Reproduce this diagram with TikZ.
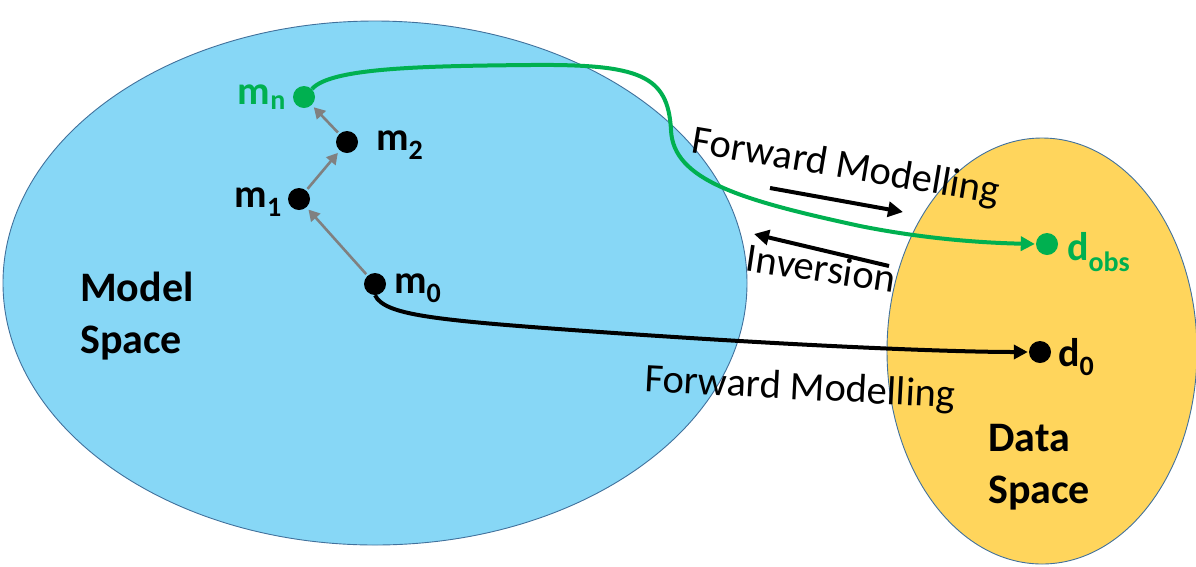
\documentclass[tikz,border=0pt]{standalone}
\usepackage{fontspec}
\setmainfont{Carlito}
\usetikzlibrary{arrows.meta}
\definecolor{modelblue}{HTML}{87D7F6}
\definecolor{datayellow}{HTML}{FFD55C}
\definecolor{edgeblue}{HTML}{41719C}
\definecolor{pathgreen}{HTML}{00B050}
\definecolor{stepgray}{HTML}{808080}
\tikzset{
  space/.style={draw=edgeblue, line width=0.9pt},
  dot/.style={circle, inner sep=0pt, minimum width=20pt, minimum height=22pt, fill=#1},
  mlabel/.style={font=\fontsize{40}{44}\selectfont\bfseries, text=#1, inner sep=0pt},
  spacelabel/.style={font=\fontsize{42}{52}\selectfont\bfseries, align=left, inner sep=0pt},
  txt/.style={font=\fontsize{40.5}{44}\selectfont, inner sep=0pt},
  steparrow/.style={draw=stepgray, line width=2.6pt, -{Triangle[length=11pt,width=12pt]}, shorten <=2pt, shorten >=3pt},
  curvearrow/.style={line width=4pt, -{Triangle[length=14pt,width=14pt]}, shorten >=1pt},
  relarrow/.style={draw=black, line width=4pt, -{Triangle[length=15pt,width=15pt]}}
}
\begin{document}
\begin{tikzpicture}[x=1pt,y=-1pt]
\useasboundingbox (0,0) rectangle (1196,566);
% spaces
\fill[modelblue] (375,283) ellipse [x radius=372, y radius=262];
\draw[space] (375,283) ellipse [x radius=372, y radius=262];
\fill[datayellow] (1042,351) ellipse [x radius=155, y radius=213];
\draw[space] (1042,351) ellipse [x radius=155, y radius=213];
% labels of spaces
\node[spacelabel, anchor=west] (ms) at (80,316) {Model\\Space};
\node[spacelabel, anchor=west] (ds) at (988,467) {Data\\Space};
% dots
\node[dot=pathgreen] (mn) at (304,97) {};
\node[dot=black] (m2) at (347,142) {};
\node[dot=black] (m1) at (299,199) {};
\node[dot=black] (m0) at (375,284) {};
\node[dot=pathgreen] (dobs) at (1047,244) {};
\node[dot=black] (d0) at (1040,352) {};
% labels
\node[mlabel=pathgreen, anchor=base east] (lmn) at (286,104) {m\textsubscript{n}};
\node[mlabel=black, anchor=base west] (lm2) at (376,150) {m\textsubscript{2}};
\node[mlabel=black, anchor=base east] (lm1) at (282,207) {m\textsubscript{1}};
\node[mlabel=black, anchor=base west] (lm0) at (394,293) {m\textsubscript{0}};
\node[mlabel=pathgreen, anchor=base west] (ldobs) at (1067,260) {d\textsubscript{obs}};
\node[mlabel=black, anchor=base west] (ld0) at (1058,366) {d\textsubscript{0}};
% step arrows
\draw[steparrow] (m0) -- (m1);
\draw[steparrow] (m1) -- (m2);
\draw[steparrow] (m2) -- (mn);
% green path
\draw[curvearrow, pathgreen] (mn.north east) .. controls (330,68) and (420,66) .. (530,65)
  .. controls (640,64) and (668,75) .. (671,130)
  .. controls (673,180) and (740,200) .. (860,226)
  .. controls (930,240) and (990,243) .. (dobs.west);
% black path
\draw[curvearrow, black] (m0.south) .. controls (385,315) and (430,320) .. (600,332)
  .. controls (800,346) and (950,352) .. (d0.west);
% relation arrows
\coordinate (fa1) at (770,188);
\coordinate (fa2) at (903,212);
\coordinate (ia1) at (889,266);
\coordinate (ia2) at (754,234);
\draw[relarrow] (fa1) -- (fa2);
\draw[relarrow] (ia1) -- (ia2);
\node[txt, rotate=-9.5] (tfm) at (846,168) {Forward Modelling};
\node[txt, rotate=-8.5] (tinv) at (821,268) {Inversion};
\node[txt, rotate=-3] (tfm2) at (800,389) {Forward Modelling};
\end{tikzpicture}
\end{document}
